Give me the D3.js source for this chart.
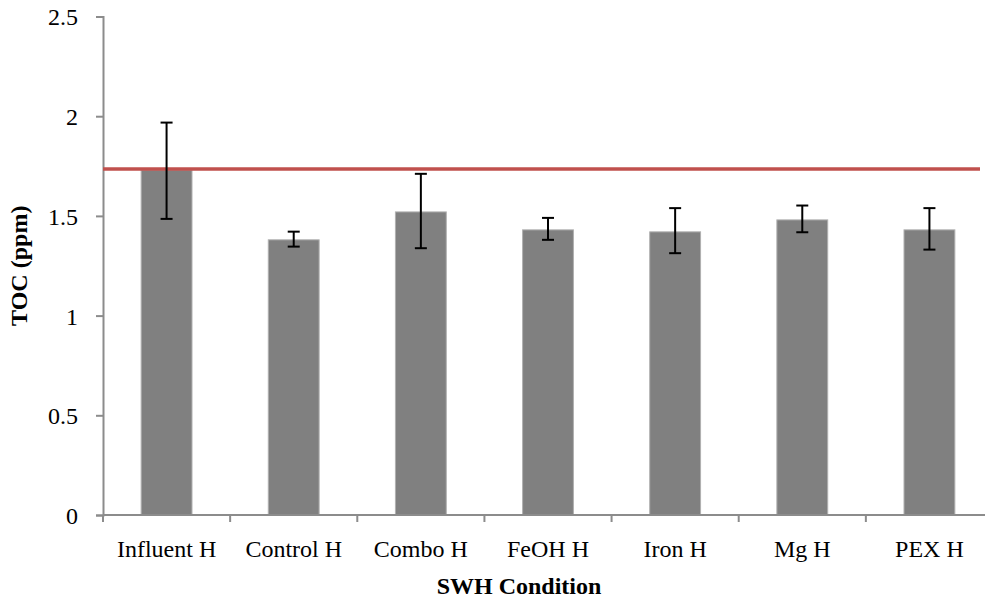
<!DOCTYPE html>
<html lang="en">
<head>
    <meta charset="utf-8">
    <title>TOC by SWH Condition</title>
    <script src="https://d3js.org/d3.v7.min.js"></script>
    <style>
        body { margin: 0; background: #fff; }
        text { font-family: "Liberation Serif", "DejaVu Serif", serif; fill: #000; }
    </style>
</head>
<body>
    <svg id="chart" width="985" height="603"></svg>
    <script>
        // chart values
        var categories = ["Influent H", "Control H", "Combo H", "FeOH H", "Iron H", "Mg H", "PEX H"];
        var tocMean = [1.73, 1.38, 1.52, 1.43, 1.42, 1.48, 1.43];
        var errLow  = [1.485, 1.346, 1.338, 1.38, 1.313, 1.418, 1.331];
        var errHigh = [1.968, 1.421, 1.711, 1.49, 1.539, 1.552, 1.539];
        var yTicks = [0, 0.5, 1, 1.5, 2, 2.5];
        var limitLine = 1.735;

        var svg = d3.select("#chart"),
            margin = {top: 16.5, left: 103},
            height = 498.5,
            width = 890;   // the axis runs past the right edge, like the original

        var g = svg.append("g")
            .attr("transform", "translate(" + margin.left + "," + margin.top + ")");

        var x = d3.scaleBand()
            .domain(categories)
            .range([0, width])
            .paddingInner(0.6)
            .paddingOuter(0.3);

        var y = d3.scaleLinear()
            .domain([0, 2.5])
            .range([height, 0]);

        var data = categories.map(function(c, i) {
            return {name: c, v: tocMean[i], lo: errLow[i], hi: errHigh[i]};
        });

        // bars
        g.selectAll(".bar")
            .data(data)
            .enter().append("rect")
            .attr("class", "bar")
            .attr("x", function(d) { return x(d.name); })
            .attr("y", function(d) { return y(d.v); })
            .attr("width", x.bandwidth())
            .attr("height", function(d) { return height - y(d.v); })
            .attr("fill", "#808080")
            .attr("stroke", "#b0b0b0")
            .attr("stroke-width", 1);

        // y axis
        var yAxis = g.append("g")
            .call(d3.axisLeft(y).tickValues(yTicks).tickFormat(d3.format("")).tickSizeInner(7).tickSizeOuter(7).tickPadding(18));
        yAxis.select(".domain").attr("stroke", "#8c8c8c").attr("stroke-width", 2);
        yAxis.selectAll(".tick line").attr("stroke", "#8c8c8c").attr("stroke-width", 2);
        yAxis.selectAll("text").style("font-size", "24px").attr("dy", "0.35em");

        // x axis with ticks between categories
        var step = x.step();
        var xAxis = g.append("g")
            .attr("transform", "translate(0," + height + ")");
        xAxis.append("line")
            .attr("x1", 0).attr("x2", width)
            .attr("stroke", "#8c8c8c").attr("stroke-width", 2);
        xAxis.selectAll(".xt")
            .data(d3.range(categories.length + 1))
            .enter().append("line")
            .attr("class", "xt")
            .attr("x1", function(i) { return i * step; })
            .attr("x2", function(i) { return i * step; })
            .attr("y1", 0).attr("y2", 7)
            .attr("stroke", "#8c8c8c").attr("stroke-width", 2);
        xAxis.selectAll(".xl")
            .data(categories)
            .enter().append("text")
            .attr("class", "xl")
            .attr("x", function(d) { return x(d) + x.bandwidth() / 2; })
            .attr("y", 42)
            .attr("text-anchor", "middle")
            .style("font-size", "24px")
            .text(function(d) { return d; });

        // red reference line
        g.append("line")
            .attr("x1", 0).attr("x2", 877)
            .attr("y1", y(limitLine)).attr("y2", y(limitLine))
            .attr("stroke", "#c0504d")
            .attr("stroke-width", 3.5);

        // error bars
        var eb = g.selectAll(".err")
            .data(data)
            .enter().append("g")
            .attr("class", "err")
            .attr("stroke", "#000")
            .attr("stroke-width", 2);
        eb.append("line")
            .attr("x1", function(d) { return x(d.name) + x.bandwidth() / 2; })
            .attr("x2", function(d) { return x(d.name) + x.bandwidth() / 2; })
            .attr("y1", function(d) { return y(d.hi); })
            .attr("y2", function(d) { return y(d.lo); });
        eb.append("line")
            .attr("x1", function(d) { return x(d.name) + x.bandwidth() / 2 - 6; })
            .attr("x2", function(d) { return x(d.name) + x.bandwidth() / 2 + 6; })
            .attr("y1", function(d) { return y(d.hi); })
            .attr("y2", function(d) { return y(d.hi); });
        eb.append("line")
            .attr("x1", function(d) { return x(d.name) + x.bandwidth() / 2 - 6; })
            .attr("x2", function(d) { return x(d.name) + x.bandwidth() / 2 + 6; })
            .attr("y1", function(d) { return y(d.lo); })
            .attr("y2", function(d) { return y(d.lo); });

        // axis titles
        svg.append("text")
            .attr("transform", "translate(27," + (margin.top + height / 2) + ") rotate(-90)")
            .attr("text-anchor", "middle")
            .style("font-size", "24px")
            .style("font-weight", "bold")
            .text("TOC (ppm)");

        svg.append("text")
            .attr("x", 519)
            .attr("y", 594)
            .attr("text-anchor", "middle")
            .style("font-size", "24px")
            .style("font-weight", "bold")
            .text("SWH Condition");
    </script>
</body>
</html>
